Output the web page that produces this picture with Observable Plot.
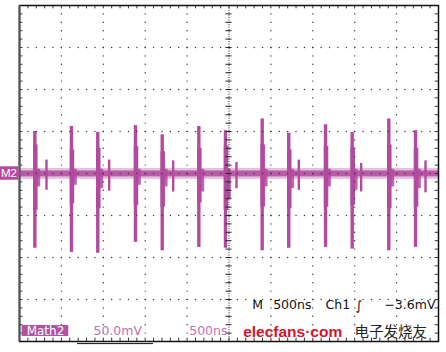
<!DOCTYPE html>
<html><head><meta charset="utf-8">
<script src="https://cdn.jsdelivr.net/npm/d3@7"></script>
<script src="https://cdn.jsdelivr.net/npm/@observablehq/plot@0.6"></script>
<style>body{margin:0;background:#fff}#chart svg{overflow:visible;background:#fff}</style>
</head><body><div id="chart"></div>
<script>
// Scope settings: 500 ns/div (10 div), 50 mV/div (8 div)
const timeDomain = [0, 5000];      // ns
const voltDomain = [-200, 200];    // mV

// Main spikes (ns, mV)
const spikeTime = [183, 620, 934, 1384, 1703, 2140, 2458, 2896, 3213, 3652, 3970, 4407, 4726];
const spikeHigh = [50, 56, 49, 57, 46, 56, 51, 65, 48, 58, 49, 65, 51];
const spikeLow  = [-89, -94, -95, -82, -92, -88, -89, -92, -89, -88, -90, -92, -88];
const bodyHigh  = [34, 28, 30, 32, 26, 30, 33, 34, 28, 32, 30, 34, 30];
const bodyLow   = [-44, -36, -42, -38, -40, -35, -44, -40, -42, -40, -38, -42, -40];
const tailLow   = [-16, -14, -18, -14, -16, -22, -30, -16, -18, -16, -20, -16, -18];

// Secondary (echo) spikes
const echoTime = [322, 1070, 1834, 2589, 3333, 4077, 4845];
const echoHigh = [16, 16, 15, 13, 16, 12, 15];
const echoLow  = [-20, -21, -22, -18, -20, -22, -23];

// Baseline noise envelope (mV): dense core and sparse fringe
const noiseCore = [-4, 3];
const noiseFringe = [-7, 6];

const traceColor = "#b24a9f";

const spikes = spikeTime.map((t, i) => ({t, hi: spikeHigh[i], lo: spikeLow[i], bh: bodyHigh[i], bl: bodyLow[i], tl: tailLow[i]}));
const echoes = echoTime.map((t, i) => ({t, hi: echoHigh[i], lo: echoLow[i]}));

const minorX = d3.range(0, 5001, 100);
const minorY = d3.range(-200, 201, 10);
const majorX = d3.range(500, 5000, 500).filter(v => v !== 2500);
const majorY = d3.range(-150, 151, 50).filter(v => v !== 0);
const gridDots = [];
for (const gx of majorX) for (const y of minorY) gridDots.push({x: gx, y});
for (const gy of majorY) for (const x of minorX) gridDots.push({x, y: gy});
for (const x of minorX) gridDots.push({x, y: 0});

const font = "Liberation Sans, Arial, sans-serif";
const scopeFont = "DejaVu Sans, sans-serif";

const chart = Plot.plot({
  width: 446, height: 352,
  marginLeft: 19, marginRight: 8, marginTop: 5, marginBottom: 11,
  x: {domain: timeDomain, axis: null},
  y: {domain: voltDomain, axis: null},
  marks: [
    // baseline noise band
    Plot.rect([{a: timeDomain[0], b: timeDomain[1], lo: noiseFringe[0], hi: noiseFringe[1]}], {x1: "a", x2: "b", y1: "lo", y2: "hi", fill: traceColor, fillOpacity: 0.35}),
    Plot.rect([{a: timeDomain[0], b: timeDomain[1], lo: noiseCore[0], hi: noiseCore[1]}], {x1: "a", x2: "b", y1: "lo", y2: "hi", fill: traceColor, fillOpacity: 0.85}),
    // tails after spikes
    Plot.rect(spikes, {x1: d => d.t, x2: d => d.t + 70, y1: "tl", y2: 5, fill: traceColor, fillOpacity: 0.85}),
    // spike body
    Plot.ruleX(spikes, {x: d => d.t + 6, y1: "bl", y2: "bh", stroke: traceColor, strokeWidth: 4.5}),
    // spike full extent
    Plot.ruleX(spikes, {x: "t", y1: "lo", y2: "hi", stroke: traceColor, strokeWidth: 3.4}),
    // echoes
    Plot.ruleX(echoes, {x: "t", y1: "lo", y2: "hi", stroke: traceColor, strokeWidth: 2.4}),
    // grid dots
    Plot.dot(gridDots, {x: "x", y: "y", r: 0.7, fill: "#333", stroke: null}),
    // vertical center line
    Plot.ruleX([2500], {stroke: "#222", strokeDasharray: "1,1.4", strokeWidth: 1}),
    Plot.ruleY(minorY, {y: d => d, x1: 2464, x2: 2536, stroke: "#222", strokeWidth: 1}),
    // border ticks
    Plot.ruleY(minorY, {y: d => d, x1: 0, x2: 40, stroke: "#333"}),
    Plot.ruleY(minorY, {y: d => d, x1: 4960, x2: 5000, stroke: "#333"}),
    Plot.ruleX(minorX, {x: d => d, y1: 200, y2: 196, stroke: "#333"}),
    Plot.ruleX(minorX, {x: d => d, y1: -200, y2: -196, stroke: "#333"}),
    // frame
    Plot.frame({stroke: "#111", strokeWidth: 1.5}),
    Plot.ruleX([0], {stroke: "#555", strokeWidth: 2}),
    Plot.ruleY([-202.5], {x1: 692, x2: 1600, stroke: "#111", strokeWidth: 1}),
    // M2 marker
    Plot.rect([{a: -230, b: -12, lo: -8, hi: 8}], {x1: "a", x2: "b", y1: "lo", y2: "hi", fill: traceColor}),
    Plot.dot([{x: -30, y: 0}], {x: "x", y: "y", symbol: "triangle2", rotate: 90, r: 5, fill: traceColor}),
    Plot.text(["M2"], {x: -125, y: 0, fill: "white", fontSize: 11.5, fontFamily: font}),
    // bottom readouts
    Plot.rect([{a: 32, b: 588, lo: -194, hi: -181}], {x1: "a", x2: "b", y1: "lo", y2: "hi", fill: "#b0529e"}),
    Plot.text(["Math2"], {x: 310, y: -187.5, fill: "white", fontSize: 12, fontFamily: scopeFont}),
    Plot.text(["50.0mV"], {x: 883, y: -187.7, textAnchor: "start", fill: "#c070b4", fontSize: 12.5, fontFamily: scopeFont}),
    Plot.text(["500ns"], {x: 2482, y: -187.7, textAnchor: "end", fill: "#c070b4", fontSize: 12.5, fontFamily: scopeFont}),
    Plot.text(["M"], {x: 2777, y: -157, textAnchor: "start", fill: "#111", fontSize: 12.5, fontFamily: scopeFont}),
    Plot.text(["500ns"], {x: 3027, y: -157, textAnchor: "start", fill: "#111", fontSize: 12.5, fontFamily: scopeFont}),
    Plot.text(["Ch1"], {x: 3652, y: -157, textAnchor: "start", fill: "#111", fontSize: 12.5, fontFamily: scopeFont}),
    Plot.text(["∫"], {x: 4010, y: -157, textAnchor: "start", fill: "#111", fontSize: 13, fontFamily: scopeFont}),
    Plot.text(["−3.6mV"], {x: 4964, y: -157, textAnchor: "end", fill: "#111", fontSize: 12.5, fontFamily: scopeFont}),
    Plot.text(["elecfans·com"], {x: 2669, y: -189, textAnchor: "start", fill: "#d2152e", fontSize: 15.5, fontWeight: "bold", fontFamily: font}),
    Plot.text(["电子发烧友"], {x: 3998, y: -189, textAnchor: "start", fill: "#222", fontSize: 14.5, fontFamily: "Noto Sans CJK SC, sans-serif"})
  ]
});
document.getElementById("chart").append(chart);
</script>
</body></html>
